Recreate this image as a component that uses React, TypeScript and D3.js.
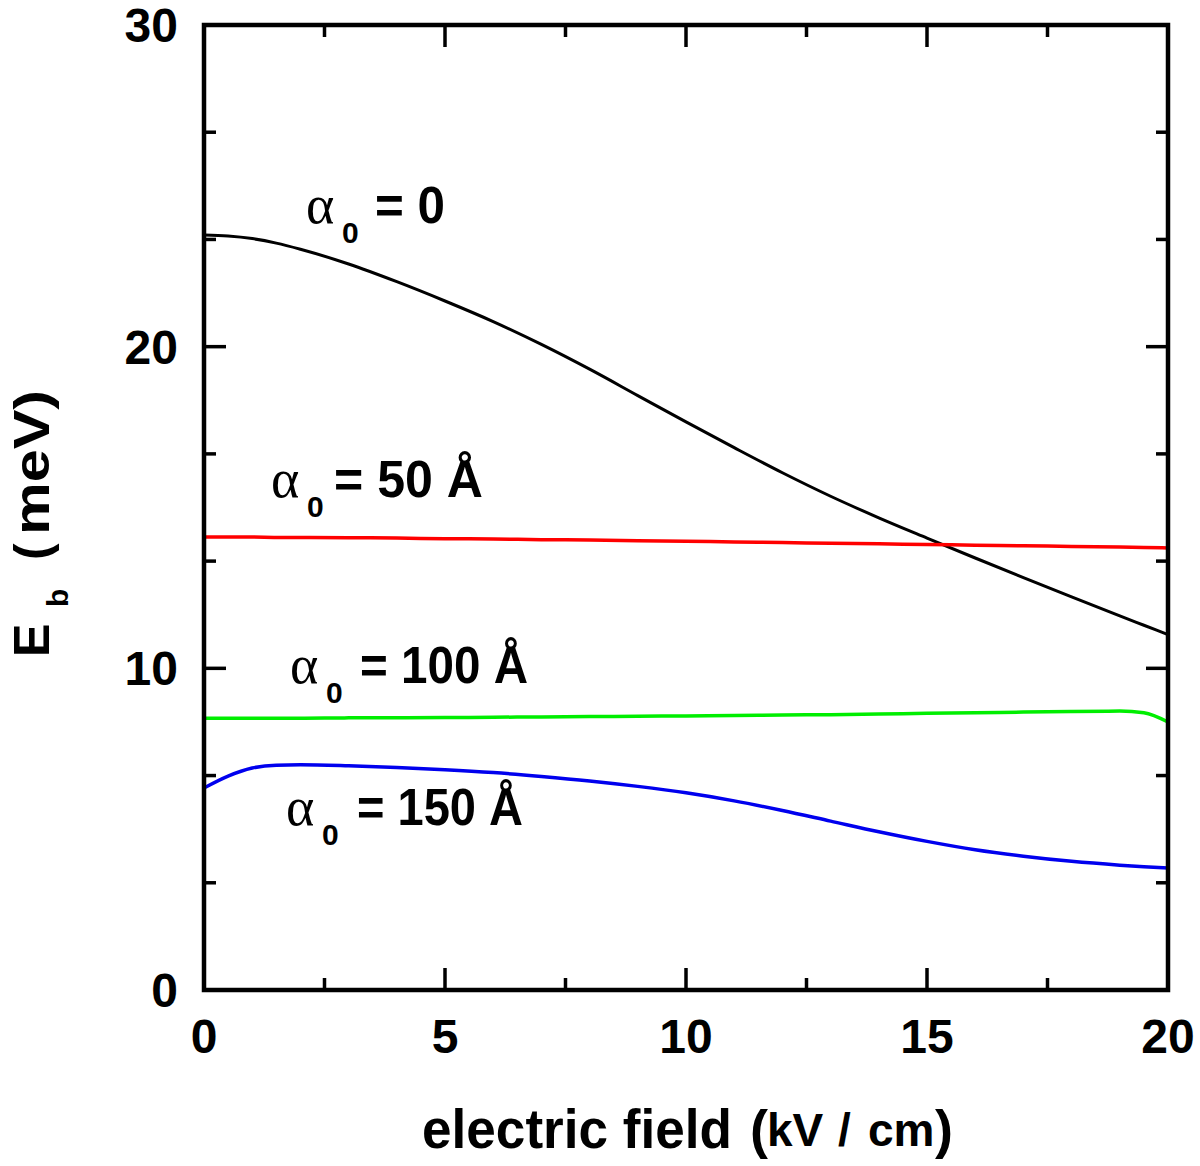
import React from "react";
import * as d3 from "d3";

const fieldX = [0, 0.5, 1, 1.5, 2, 3, 4, 5, 6, 7, 8, 9, 10, 11, 12, 13, 14, 15, 16, 17, 18, 19, 19.5, 20];
const eb0 = [23.47, 23.44, 23.36, 23.22, 23.03, 22.57, 22.02, 21.42, 20.78, 20.07, 19.3, 18.48, 17.66, 16.86, 16.08, 15.35, 14.68, 14.05, 13.43, 12.82, 12.22, 11.63, 11.34, 11.05];
const eb50 = [14.08, 14.08, 14.08, 14.07, 14.07, 14.06, 14.05, 14.03, 14.02, 14.0, 13.99, 13.97, 13.95, 13.93, 13.91, 13.89, 13.87, 13.85, 13.83, 13.81, 13.79, 13.77, 13.76, 13.74];
const eb100 = [8.45, 8.45, 8.45, 8.45, 8.45, 8.46, 8.46, 8.47, 8.48, 8.49, 8.5, 8.51, 8.52, 8.53, 8.55, 8.56, 8.58, 8.6, 8.62, 8.64, 8.66, 8.67, 8.62, 8.33];
const eb150 = [6.28, 6.65, 6.9, 6.99, 7.0, 6.97, 6.92, 6.85, 6.76, 6.64, 6.5, 6.33, 6.13, 5.88, 5.58, 5.25, 4.92, 4.62, 4.36, 4.16, 4.0, 3.88, 3.83, 3.79];

const xTicks = [0, 5, 10, 15, 20];
const xMinor = [2.5, 7.5, 12.5, 17.5];
const yTicks = [0, 10, 20, 30];
const yMinor = [10 / 3, 20 / 3, 40 / 3, 50 / 3, 70 / 3, 80 / 3];

const seriesColors = ["#000000", "#ff0000", "#00ee00", "#0000ee"];
const seriesData = [eb0, eb50, eb100, eb150];
const seriesLabels = ["0", "50 Å", "100 Å", "150 Å"];

const L = 204, R = 1168, T = 25, B = 990;
const FONT = "'Liberation Sans', Arial, Helvetica, sans-serif";
const SERIF = "'Liberation Serif', 'DejaVu Serif', serif";

export default function App() {
  const x = d3.scaleLinear().domain([0, 20]).range([L, R]);
  const y = d3.scaleLinear().domain([0, 30]).range([B, T]);
  const line = d3
    .line<[number, number]>()
    .x((d) => x(d[0]))
    .y((d) => y(d[1]))
    .curve(d3.curveMonotoneX);

  const labelPos = [
    { ax: 306, ex: 375, by: 223, len: 70 },
    { ax: 271, ex: 334, by: 497, len: 149 },
    { ax: 290, ex: 360, by: 683, len: 168 },
    { ax: 286, ex: 357, by: 825, len: 166 },
  ];

  return (
    <svg width={1200} height={1166} style={{ display: "block", position: "absolute", left: 0, top: 0 }}>
      <rect width={1200} height={1166} fill="#fff" />
      {seriesData.map((s, i) => (
        <path
          key={i}
          d={line(fieldX.map((f, j) => [f, s[j]] as [number, number])) || ""}
          fill="none"
          stroke={seriesColors[i]}
          strokeWidth={i === 0 ? 3 : 3.5}
        />
      ))}
      {xTicks.map((t) => (
        <g key={"xt" + t}>
          <line x1={x(t)} x2={x(t)} y1={B} y2={B - 22} stroke="#000" strokeWidth={3.5} />
          <line x1={x(t)} x2={x(t)} y1={T} y2={T + 22} stroke="#000" strokeWidth={3.5} />
          <text x={x(t)} y={1053} textAnchor="middle" fontFamily={FONT} fontWeight="bold" fontSize={48}>
            {t}
          </text>
        </g>
      ))}
      {xMinor.map((t) => (
        <g key={"xm" + t}>
          <line x1={x(t)} x2={x(t)} y1={B} y2={B - 12} stroke="#000" strokeWidth={3.5} />
          <line x1={x(t)} x2={x(t)} y1={T} y2={T + 12} stroke="#000" strokeWidth={3.5} />
        </g>
      ))}
      {yTicks.map((t) => (
        <g key={"yt" + t}>
          <line x1={L} x2={L + 22} y1={y(t)} y2={y(t)} stroke="#000" strokeWidth={3.5} />
          <line x1={R} x2={R - 22} y1={y(t)} y2={y(t)} stroke="#000" strokeWidth={3.5} />
          <text x={178} y={y(t) + 17} textAnchor="end" fontFamily={FONT} fontWeight="bold" fontSize={48}>
            {t}
          </text>
        </g>
      ))}
      {yMinor.map((t) => (
        <g key={"ym" + t}>
          <line x1={L} x2={L + 12} y1={y(t)} y2={y(t)} stroke="#000" strokeWidth={3.5} />
          <line x1={R} x2={R - 12} y1={y(t)} y2={y(t)} stroke="#000" strokeWidth={3.5} />
        </g>
      ))}
      <rect x={L} y={T} width={R - L} height={B - T} fill="none" stroke="#000" strokeWidth={4.5} />
      {seriesLabels.map((lab, i) => {
        const p = labelPos[i];
        return (
          <g key={"lab" + i}>
            <text x={p.ax} y={p.by} fontFamily={SERIF} fontSize={54}>α</text>
            <text x={p.ax + 36} y={p.by + 20} fontFamily={FONT} fontWeight="bold" fontSize={30}>0</text>
            <text x={p.ex} y={p.by} fontFamily={FONT} fontWeight="bold" fontSize={52} textLength={p.len} lengthAdjust="spacingAndGlyphs">
              = {lab}
            </text>
          </g>
        );
      })}
      <text x={422} y={1148} fontFamily={FONT} fontWeight="bold" fontSize={56} textLength={310} lengthAdjust="spacingAndGlyphs">
        electric field
      </text>
      <text x={750} y={1148} fontFamily={FONT} fontWeight="bold" fontSize={54}>(</text>
      <text x={767} y={1146} fontFamily={FONT} fontWeight="bold" fontSize={46}>kV</text>
      <text x={838} y={1146} fontFamily={FONT} fontWeight="bold" fontSize={46}>/</text>
      <text x={868} y={1146} fontFamily={FONT} fontWeight="bold" fontSize={46}>cm</text>
      <text x={935} y={1148} fontFamily={FONT} fontWeight="bold" fontSize={54}>)</text>
      <g transform="translate(49,657) rotate(-90)">
        <text x={0} y={0} fontFamily={FONT} fontWeight="bold" fontSize={50}>E</text>
        <text x={50} y={19} fontFamily={FONT} fontWeight="bold" fontSize={30}>b</text>
        <text x={97} y={0} fontFamily={FONT} fontWeight="bold" fontSize={50}>(</text>
        <text x={122} y={0} fontFamily={FONT} fontWeight="bold" fontSize={50} textLength={145} lengthAdjust="spacingAndGlyphs">
          meV)
        </text>
      </g>
    </svg>
  );
}
